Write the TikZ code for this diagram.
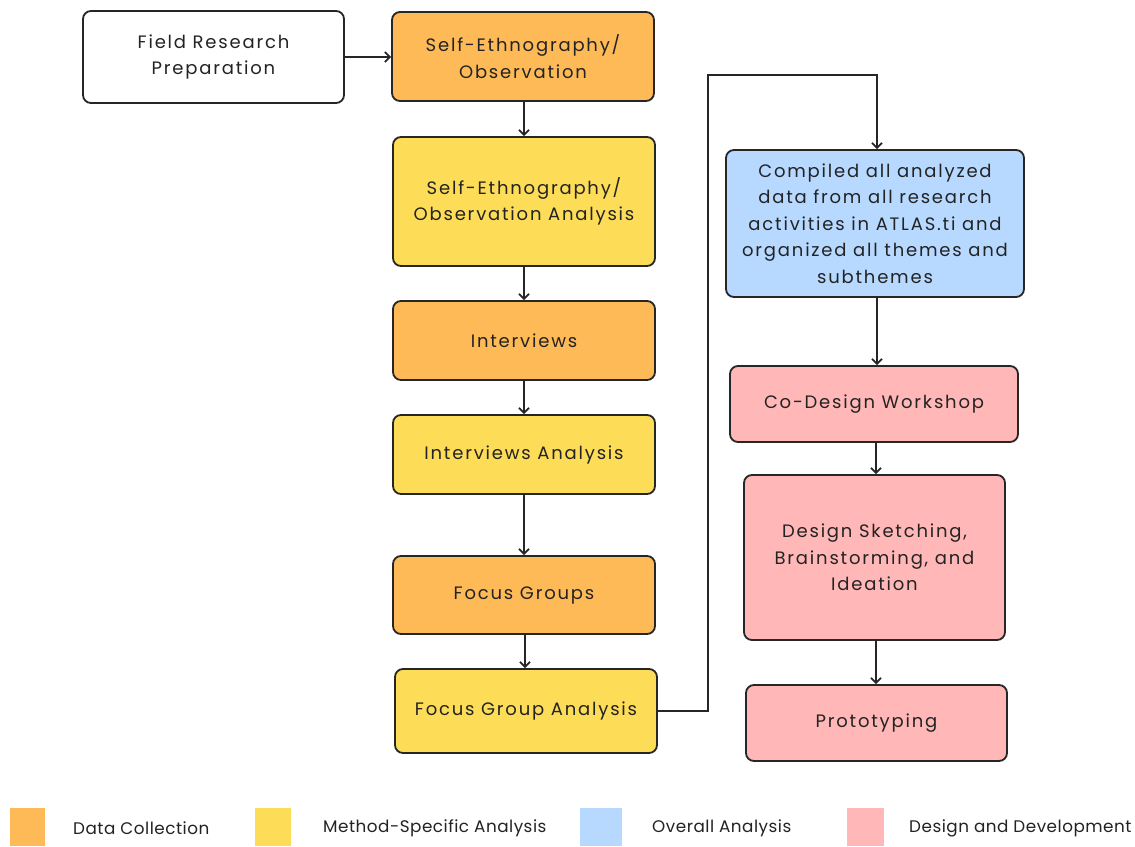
\documentclass[tikz,border=0pt]{standalone}
\usepackage{fontspec}
\setmainfont{Poppins}[LetterSpace=10,Ligatures={NoCommon,NoRequired,NoContextual}]
\newfontfamily\legfont{Poppins}[LetterSpace=3,Ligatures={NoCommon,NoRequired,NoContextual}]
\usetikzlibrary{arrows.meta}
\definecolor{dcol}{RGB}{253,186,87}
\definecolor{mcol}{RGB}{253,220,88}
\definecolor{ocol}{RGB}{183,216,255}
\definecolor{pcol}{RGB}{255,183,183}
\definecolor{txt}{RGB}{35,35,35}
\tikzset{
  box/.style={draw=black!85, line width=1.8pt, rounded corners=8pt, align=center, text=txt,
    font=\fontsize{18}{26.5}\selectfont, inner sep=0pt},
  conn/.style={line width=2pt, draw=black!85, -{Straight Barb[length=5pt,width=10pt,line width=1.8pt]}},
  leg/.style={anchor=west, text=txt, font=\legfont\fontsize{16.8}{20}\selectfont, inner sep=0pt},
}
\begin{document}
\begin{tikzpicture}[x=1pt,y=-1pt]
\useasboundingbox (0,0) rectangle (1135,846);
\fill[white] (0,0) rectangle (1135,846);
% boxes
\node[box, fill=white, minimum width=261pt, minimum height=92pt] (frp) at (213.5,57) {Field Research\\Preparation};
\node[box, fill=dcol, minimum width=262pt, minimum height=89pt] (se) at (523,56.5) {Self-Ethnography/\\Observation};
\node[box, fill=mcol, minimum width=262pt, minimum height=129pt] (sea) at (524,201.5) {Self-Ethnography/\\Observation Analysis};
\node[box, fill=dcol, minimum width=262pt, minimum height=79pt] (int) at (524,340.5) {Interviews};
\node[box, fill=mcol, minimum width=262pt, minimum height=79pt] (inta) at (524,454.5) {Interviews Analysis};
\node[box, fill=dcol, minimum width=262pt, minimum height=78pt] (fg) at (524,595) {Focus Groups};
\node[box, fill=mcol, minimum width=262pt, minimum height=84pt] (fga) at (526,711) {Focus Group Analysis};
\node[box, fill=ocol, minimum width=298pt, minimum height=147pt] (comp) at (875,223.5) {Compiled all analyzed\\data from all research\\activities in ATLAS.ti and\\organized all themes and\\subthemes};
\node[box, fill=pcol, minimum width=288pt, minimum height=76pt] (cdw) at (874,404) {Co-Design Workshop};
\node[box, fill=pcol, minimum width=261pt, minimum height=165pt] (ds) at (874.5,557.5) {Design Sketching,\\Brainstorming, and\\Ideation};
\node[box, fill=pcol, minimum width=261pt, minimum height=76pt] (pro) at (876.5,723) {Prototyping};
% connectors
\draw[conn] (frp.east) -- (se.west |- frp.east);
\draw[conn] ([xshift=1pt]se.south) -- ([xshift=1pt]se.south |- sea.north);
\draw[conn] (sea.south) -- (int.north);
\draw[conn] (int.south) -- (inta.north);
\draw[conn] (inta.south) -- (fg.north);
\draw[conn] ([xshift=1pt]fg.south) -- ([xshift=1pt]fg.south |- fga.north);
\coordinate (c1) at (708,75);
\draw[conn] (fga.east) -| (c1) -| ([xshift=2pt]comp.north);
\draw[conn] ([xshift=2pt]comp.south) -- ([xshift=2pt]comp.south |- cdw.north);
\draw[conn] ([xshift=2pt]cdw.south) -- ([xshift=2pt]cdw.south |- ds.north);
\draw[conn] ([xshift=1.5pt]ds.south) -- ([xshift=1.5pt]ds.south |- pro.north);
% legend
\fill[dcol] (10,808) rectangle (45,846);
\node[leg] (l1) at (73,828) {Data Collection};
\fill[mcol] (255,808) rectangle (291,846);
\node[leg] (l2) at (323,828) {Method-Specific Analysis};
\fill[ocol] (580,808) rectangle (622,846);
\node[leg] (l3) at (652,828) {Overall Analysis};
\fill[pcol] (847,808) rectangle (884,846);
\node[leg] (l4) at (909,828) {Design and Development};
\end{tikzpicture}
\end{document}
